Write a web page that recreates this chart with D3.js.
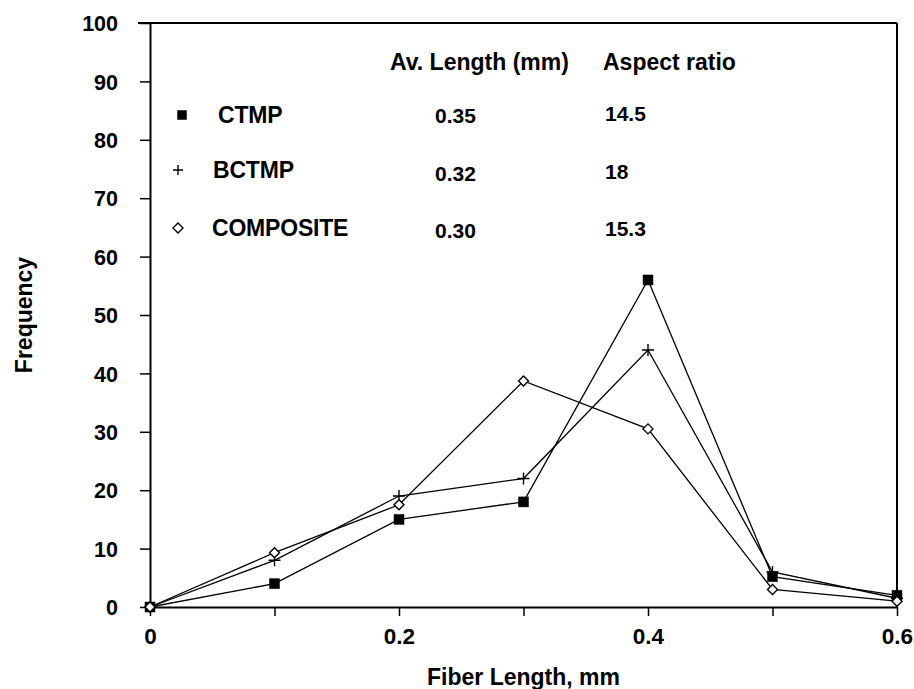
<!DOCTYPE html>
<html>
<head>
<meta charset="utf-8">
<script src="https://cdn.jsdelivr.net/npm/d3@7"></script>
<style>
  body { margin: 0; background: #fff; }
  svg { display: block; font-family: "Liberation Sans", Arial, sans-serif; font-weight: bold; }
</style>
</head>
<body>
<svg id="chart" width="914" height="689"></svg>
<script>
// data
const fiberLength = [0, 0.1, 0.2, 0.3, 0.4, 0.5, 0.6];
const ctmp = [0, 4, 15, 18, 56, 5.2, 2];
const bctmp = [0, 8, 19, 22, 44, 6, 1.5];
const composite = [0, 9.3, 17.5, 38.7, 30.5, 3, 1];

const seriesNames = ['CTMP', 'BCTMP', 'COMPOSITE'];
const avLengths = ['0.35', '0.32', '0.30'];
const aspectRatios = ['14.5', '18', '15.3'];
const xTickLabels = [0, 0.2, 0.4, 0.6];

const margin = { top: 23, right: 17, bottom: 82, left: 150 };
const width = 914, height = 689;

const svg = d3.select('#chart');
const x = d3.scaleLinear().domain([0, 0.6]).range([margin.left, width - margin.right]);
const y = d3.scaleLinear().domain([0, 100]).range([height - margin.bottom, margin.top]);

// marker shapes
function markerPath(type, s) {
  if (type === 'square') return `M${-s / 2},${-s / 2}h${s}v${s}h${-s}Z`;
  if (type === 'plus') return `M${-s / 2},0H${s / 2}M0,${-s / 2}V${s / 2}`;
  return `M0,${-s / 2}L${s / 2},0L0,${s / 2}L${-s / 2},0Z`;
}
const markerTypes = ['square', 'plus', 'diamond'];
const markerSize = [10, 12, 10];

// frame: top and right
svg.append('line').attr('x1', margin.left - 12).attr('x2', x(0.6))
  .attr('y1', y(100)).attr('y2', y(100)).attr('stroke', '#000').attr('stroke-width', 2);
svg.append('line').attr('x1', x(0.6)).attr('x2', x(0.6))
  .attr('y1', y(100)).attr('y2', y(0)).attr('stroke', '#000').attr('stroke-width', 2);

// axes
const yAxis = d3.axisLeft(y).tickValues(d3.range(0, 101, 10)).tickSizeInner(10).tickSizeOuter(0).tickPadding(22);
const xAxis = d3.axisBottom(x).tickValues(d3.range(0, 0.61, 0.1)).tickSizeInner(9).tickSizeOuter(0).tickPadding(12)
  .tickFormat(d => {
    const r = Math.round(d * 10) / 10;
    return xTickLabels.some(t => Math.abs(t - r) < 1e-9) ? d3.format('~g')(r) : '';
  });

const gy = svg.append('g').attr('transform', `translate(${margin.left},0)`).call(yAxis);
const gx = svg.append('g').attr('transform', `translate(0,${y(0)})`).call(xAxis);
[gx, gy].forEach(g => {
  g.select('.domain').attr('stroke', '#000').attr('stroke-width', 2);
  g.selectAll('.tick line').attr('stroke', '#000').attr('stroke-width', 1.5);
  g.selectAll('.tick text').attr('fill', '#000')
    .attr('font-family', '"Liberation Sans", Arial, sans-serif').attr('font-weight', 'bold');
});
gy.selectAll('.tick text').attr('font-size', 21.5).attr('dy', '0.36em');
gx.selectAll('.tick text').attr('font-size', 22.5);

// axis titles
svg.append('text').attr('x', (x(0) + x(0.6)) / 2).attr('y', 685)
  .attr('text-anchor', 'middle').attr('font-size', 23)
  .text('Fiber Length, mm');
svg.append('text').attr('transform', `translate(32,${(y(0) + y(100)) / 2}) rotate(-90)`)
  .attr('text-anchor', 'middle').attr('font-size', 23)
  .text('Frequency');

// series
const series = [ctmp, bctmp, composite];
const line = d3.line().x((d, i) => x(fiberLength[i])).y(d => y(d));

series.forEach((vals, k) => {
  svg.append('path').datum(vals).attr('d', line)
    .attr('fill', 'none').attr('stroke', '#000').attr('stroke-width', 1.3);
});
series.forEach((vals, k) => {
  svg.append('g').selectAll('path').data(vals).join('path')
    .attr('transform', (d, i) => `translate(${x(fiberLength[i])},${y(d)})`)
    .attr('d', markerPath(markerTypes[k], markerSize[k]))
    .attr('fill', markerTypes[k] === 'square' ? '#000' : (markerTypes[k] === 'diamond' ? '#fff' : 'none'))
    .attr('stroke', '#000').attr('stroke-width', markerTypes[k] === 'square' ? 0.5 : 1.4);
});

// legend table
const rowY = [115, 170, 228];
const valY = [115, 173, 230];
svg.append('text').attr('x', 390).attr('y', 62).attr('dy', '0.36em').attr('font-size', 23)
  .text('Av. Length (mm)');
svg.append('text').attr('x', 603).attr('y', 62).attr('dy', '0.36em').attr('font-size', 23)
  .text('Aspect ratio');

seriesNames.forEach((name, k) => {
  svg.append('path').attr('transform', `translate(${k === 0 ? 182 : 178},${rowY[k]})`)
    .attr('d', markerPath(markerTypes[k], k === 0 ? 9 : 10))
    .attr('fill', markerTypes[k] === 'square' ? '#000' : (markerTypes[k] === 'diamond' ? '#fff' : 'none'))
    .attr('stroke', '#000').attr('stroke-width', markerTypes[k] === 'square' ? 0.5 : 1.4);
  svg.append('text').attr('x', [218, 213, 212][k]).attr('y', rowY[k]).attr('dy', '0.36em')
    .attr('font-size', 23).attr('letter-spacing', -0.2).text(name);
  svg.append('text').attr('x', 435).attr('y', valY[k]).attr('dy', '0.36em')
    .attr('font-size', 21).text(avLengths[k]);
  svg.append('text').attr('x', 605).attr('y', valY[k] - 2).attr('dy', '0.36em')
    .attr('font-size', 21).text(aspectRatios[k]);
});
</script>
</body>
</html>
